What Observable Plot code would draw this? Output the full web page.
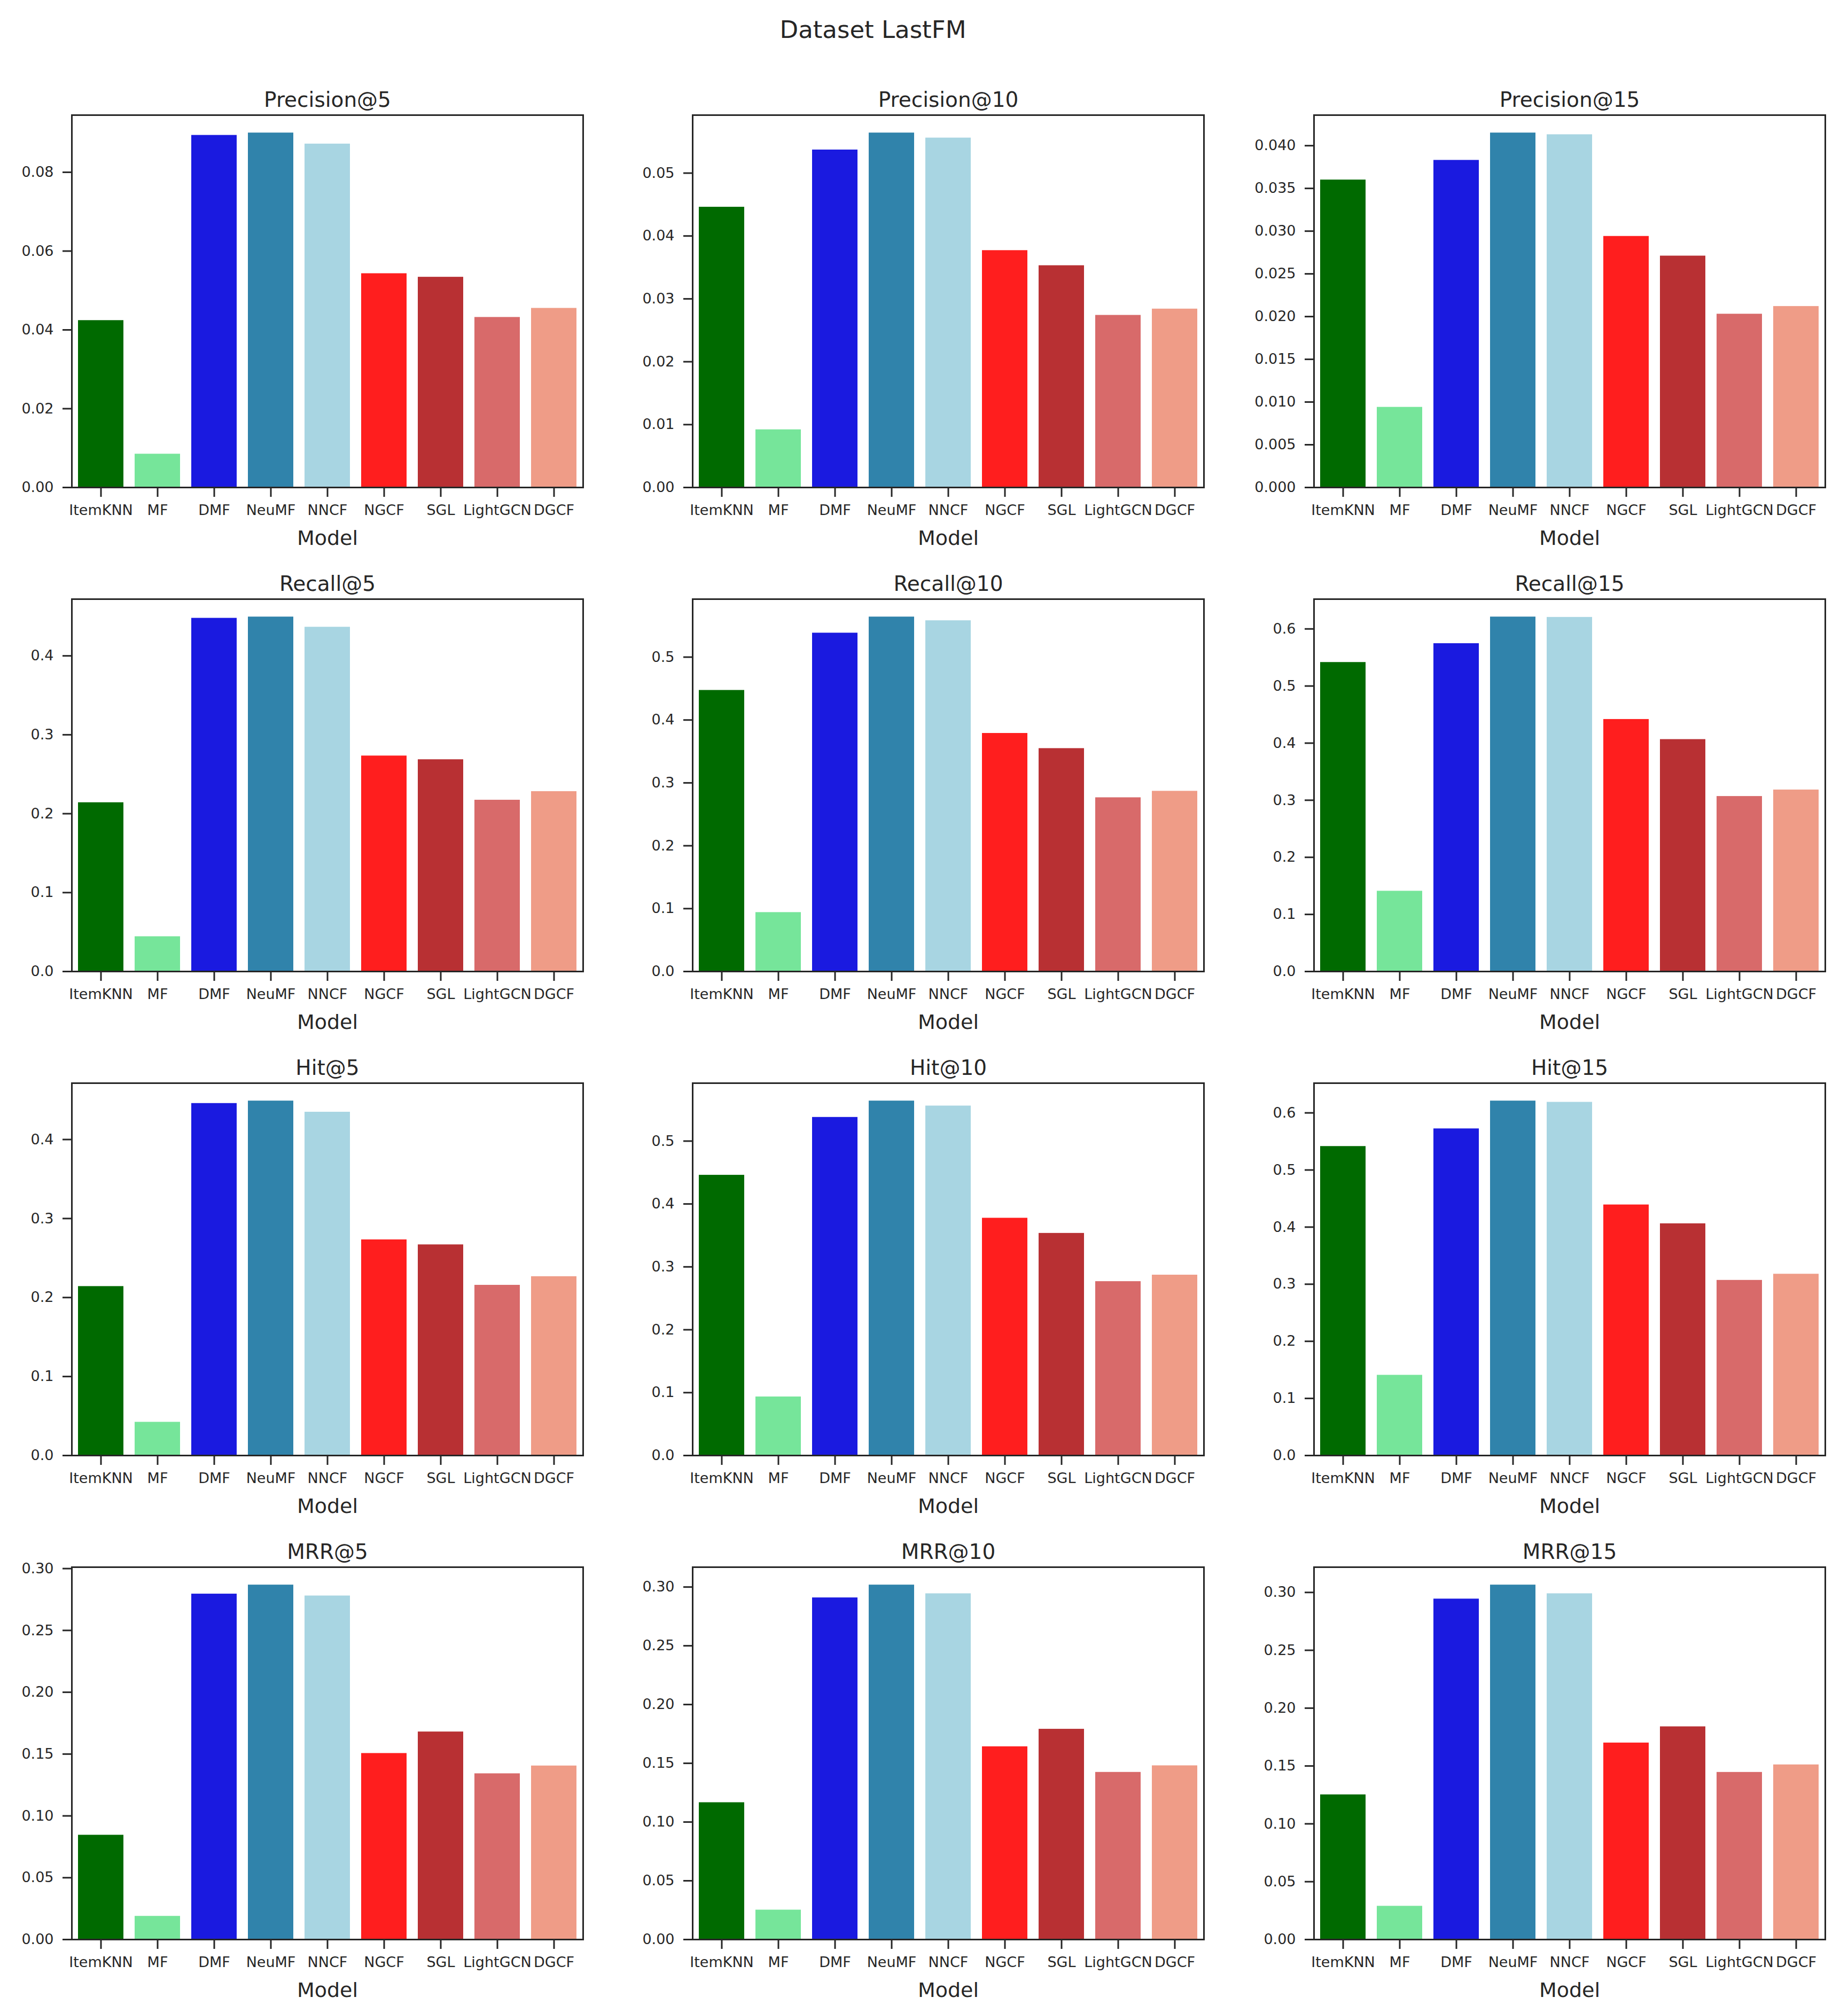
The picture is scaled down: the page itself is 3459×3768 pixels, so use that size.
<!DOCTYPE html>
<html>
<head>
<meta charset="utf-8">
<script src="https://cdn.jsdelivr.net/npm/d3@7"></script>
<script src="https://cdn.jsdelivr.net/npm/@observablehq/plot@0.6"></script>
<style>
  body { margin: 0; background: #fff; }
  #fig { position: relative; width: 3459px; height: 3768px; background: #fff; font-family: "DejaVu Sans", sans-serif; color: #262626; overflow: hidden; }
  #suptitle { position: absolute; left: 1134px; width: 1000px; top: 33px; text-align: center; font-size: 45px; line-height: 45px; }
  .panel { position: absolute; }
</style>
</head>
<body>
<div id="fig"><div id="suptitle">Dataset LastFM</div></div>
<script>
// ---- Data ----
const models = ["ItemKNN", "MF", "DMF", "NeuMF", "NNCF", "NGCF", "SGL", "LightGCN", "DGCF"];
const colors = ["#006a00", "#76e59a", "#1a1ae0", "#3083ab", "#a8d5e2", "#ff1e1e", "#b83033", "#d86a6a", "#ef9c87"];

const precision5  = [0.0424, 0.0085, 0.0894, 0.0900, 0.0872, 0.0543, 0.0534, 0.0432, 0.0455];
const precision10 = [0.0446, 0.0092, 0.0537, 0.0564, 0.0556, 0.0377, 0.0353, 0.0274, 0.0284];
const precision15 = [0.0360, 0.0094, 0.0383, 0.0415, 0.0413, 0.0294, 0.0271, 0.0203, 0.0212];
const recall5  = [0.2141, 0.0443, 0.4478, 0.4494, 0.4365, 0.2733, 0.2686, 0.2173, 0.2282];
const recall10 = [0.4473, 0.0940, 0.5384, 0.5640, 0.5581, 0.3789, 0.3548, 0.2766, 0.2869];
const recall15 = [0.5415, 0.1409, 0.5745, 0.6211, 0.6205, 0.4417, 0.4065, 0.3068, 0.3182];
const hit5  = [0.2141, 0.0423, 0.4458, 0.4489, 0.4348, 0.2732, 0.2669, 0.2157, 0.2266];
const hit10 = [0.4459, 0.0934, 0.5379, 0.5639, 0.5560, 0.3776, 0.3535, 0.2768, 0.2871];
const hit15 = [0.5414, 0.1408, 0.5723, 0.6210, 0.6188, 0.4391, 0.4061, 0.3070, 0.3178];
const mrr5  = [0.0845, 0.0189, 0.2795, 0.2868, 0.2780, 0.1506, 0.1680, 0.1342, 0.1405];
const mrr10 = [0.1166, 0.0252, 0.2909, 0.3018, 0.2944, 0.1642, 0.1791, 0.1424, 0.1480];
const mrr15 = [0.1252, 0.0289, 0.2944, 0.3065, 0.2990, 0.1700, 0.1840, 0.1446, 0.1511];

// ---- Tick values ----
const ticksP5  = [0, 0.02, 0.04, 0.06, 0.08];
const ticksP10 = [0, 0.01, 0.02, 0.03, 0.04, 0.05];
const ticksP15 = [0, 0.005, 0.010, 0.015, 0.020, 0.025, 0.030, 0.035, 0.040];
const ticks04  = [0, 0.1, 0.2, 0.3, 0.4];
const ticks05  = [0, 0.1, 0.2, 0.3, 0.4, 0.5];
const ticks06  = [0, 0.1, 0.2, 0.3, 0.4, 0.5, 0.6];
const ticksMRR = [0, 0.05, 0.10, 0.15, 0.20, 0.25, 0.30];

const panels = [
  {title: "Precision@5",  values: precision5,  ticks: ticksP5,  fmt: ".2f"},
  {title: "Precision@10", values: precision10, ticks: ticksP10, fmt: ".2f"},
  {title: "Precision@15", values: precision15, ticks: ticksP15, fmt: ".3f"},
  {title: "Recall@5",  values: recall5,  ticks: ticks04, fmt: ".1f"},
  {title: "Recall@10", values: recall10, ticks: ticks05, fmt: ".1f"},
  {title: "Recall@15", values: recall15, ticks: ticks06, fmt: ".1f"},
  {title: "Hit@5",  values: hit5,  ticks: ticks04, fmt: ".1f"},
  {title: "Hit@10", values: hit10, ticks: ticks05, fmt: ".1f"},
  {title: "Hit@15", values: hit15, ticks: ticks06, fmt: ".1f"},
  {title: "MRR@5",  values: mrr5,  ticks: ticksMRR, fmt: ".2f"},
  {title: "MRR@10", values: mrr10, ticks: ticksMRR, fmt: ".2f"},
  {title: "MRR@15", values: mrr15, ticks: ticksMRR, fmt: ".2f"}
];

// ---- Layout ----
const colLeft = [134, 1296, 2459];
const rowTop = [215, 1121, 2027, 2933];
const W = 957, H = 697;
const ML = 136, MR = 24, MT = 60, MB = 135;
const ink = "#262626";

const fig = document.getElementById("fig");

panels.forEach((p, i) => {
  const row = Math.floor(i / 3), col = i % 3;
  const data = models.map((m, j) => ({model: m, value: p.values[j]}));
  const chart = Plot.plot({
    width: ML + W + MR,
    height: MT + H + MB,
    marginLeft: ML, marginRight: MR, marginTop: MT, marginBottom: MB,
    style: {fontFamily: "DejaVu Sans", fontSize: "27px", color: ink, background: "transparent", overflow: "visible"},
    x: {type: "band", domain: models, paddingInner: 0.2, paddingOuter: 0.1, label: null},
    y: {domain: [0, d3.max(p.values) * 1.05], label: null},
    color: {domain: models, range: colors},
    marks: [
      Plot.barY(data, {x: "model", y: "value", fill: "model"}),
      Plot.frame({stroke: ink, strokeWidth: 3}),
      Plot.axisX({tickSize: 18, tickPadding: 14, stroke: ink, strokeWidth: 3, label: null, fontSize: 27, fill: ink}),
      Plot.axisY({ticks: p.ticks, tickFormat: d3.format(p.fmt), tickSize: 17, tickPadding: 17, stroke: ink, strokeWidth: 3, label: null, fontSize: 27, fill: ink}),
      Plot.text([p.title], {text: d => d, frameAnchor: "top", dy: -16, lineAnchor: "bottom", fontSize: 39, fill: ink}),
      Plot.text(["Model"], {text: d => d, frameAnchor: "bottom", dy: 107, lineAnchor: "bottom", fontSize: 38, fill: ink})
    ]
  });
  const wrap = document.createElement("div");
  wrap.className = "panel";
  wrap.style.left = (colLeft[col] - ML) + "px";
  wrap.style.top = (rowTop[row] - MT) + "px";
  wrap.appendChild(chart);
  fig.appendChild(wrap);
});
</script>
</body>
</html>
